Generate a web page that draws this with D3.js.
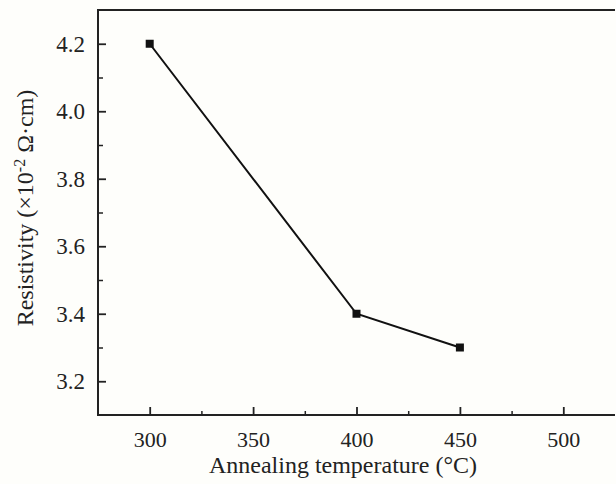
<!DOCTYPE html>
<html lang="en">
<head>
<meta charset="utf-8">
<title>Resistivity vs annealing temperature</title>
<script src="https://cdn.jsdelivr.net/npm/d3@7"></script>
<style>
  body { margin: 0; background: #fefefb; }
  svg { display: block; }
  text { font-family: "Liberation Serif", "Times New Roman", serif; fill: #222; }
</style>
</head>
<body>
<div id="chart"></div>
<script>
// data
var temps = [300, 400, 450];
var resistivity = [4.2, 3.4, 3.3];
var xTicks = [300, 350, 400, 450, 500];
var yTicks = [3.2, 3.4, 3.6, 3.8, 4.0, 4.2];

var W = 616, H = 484;
// plot box edges (right side is cut off in the original)
var pLeft = 98, pTop = 10, pBottom = 415, pRight = 615;

var svg = d3.select("#chart").append("svg")
    .attr("width", W)
    .attr("height", H);

var x = d3.scaleLinear().domain([275, 525]).range([pLeft, pRight]);
var y = d3.scaleLinear().domain([3.1, 4.3]).range([pBottom, pTop]);

// minor ticks
var xMinor = [325, 375, 425, 475];
var yMinor = [3.3, 3.5, 3.7, 3.9, 4.1];

svg.append("g")
    .attr("transform", "translate(0," + pBottom + ")")
    .call(d3.axisBottom(x).tickValues(xMinor).tickSize(-4).tickFormat(""))
    .call(g => g.select(".domain").remove())
    .selectAll("line").attr("stroke", "#222").attr("stroke-width", 1.5);

svg.append("g")
    .attr("transform", "translate(" + pLeft + ",0)")
    .call(d3.axisLeft(y).tickValues(yMinor).tickSize(-5).tickFormat(""))
    .call(g => g.select(".domain").remove())
    .selectAll("line").attr("stroke", "#222").attr("stroke-width", 1.5);

// major axes
var xAxis = svg.append("g")
    .attr("transform", "translate(0," + pBottom + ")")
    .call(d3.axisBottom(x).tickValues(xTicks).tickSize(-8).tickPadding(16).tickFormat(d3.format("d")));
xAxis.select(".domain").remove();
xAxis.selectAll("line").attr("stroke", "#222").attr("stroke-width", 1.8);
xAxis.selectAll("text").style("font-size", "22px").attr("fill", "#222");

var yAxis = svg.append("g")
    .attr("transform", "translate(" + pLeft + ",0)")
    .call(d3.axisLeft(y).tickValues(yTicks).tickSize(-8).tickPadding(13).tickFormat(d3.format(".1f")));
yAxis.select(".domain").remove();
yAxis.selectAll("line").attr("stroke", "#222").attr("stroke-width", 1.8);
yAxis.selectAll("text").style("font-size", "23px").attr("fill", "#222");

// frame: top, left, bottom
svg.append("path")
    .attr("d", "M" + pRight + "," + pTop + "H" + pLeft + "V" + pBottom + "H" + pRight)
    .attr("fill", "none")
    .attr("stroke", "#222")
    .attr("stroke-width", 2);

// data line
var pts = temps.map((t, i) => [t, resistivity[i]]);
svg.append("path")
    .datum(pts)
    .attr("fill", "none")
    .attr("stroke", "#111")
    .attr("stroke-width", 2)
    .attr("d", d3.line().x(d => x(d[0])).y(d => y(d[1])));

svg.selectAll("rect.pt")
    .data(pts)
    .enter().append("rect")
    .attr("class", "pt")
    .attr("x", d => x(d[0]) - 4)
    .attr("y", d => y(d[1]) - 4)
    .attr("width", 8)
    .attr("height", 8)
    .attr("fill", "#111");

// axis titles
svg.append("text")
    .attr("x", 343)
    .attr("y", 473)
    .attr("text-anchor", "middle")
    .style("font-size", "24px")
    .text("Annealing temperature (°C)");

var yt = svg.append("text")
    .attr("transform", "translate(33,208) rotate(-90)")
    .attr("text-anchor", "middle")
    .style("font-size", "24px");
yt.append("tspan").text("Resistivity (×10");
yt.append("tspan").attr("dy", -8).style("font-size", "16px").text("-2");
yt.append("tspan").attr("dy", 8).text(" Ω·cm)");
</script>
</body>
</html>
